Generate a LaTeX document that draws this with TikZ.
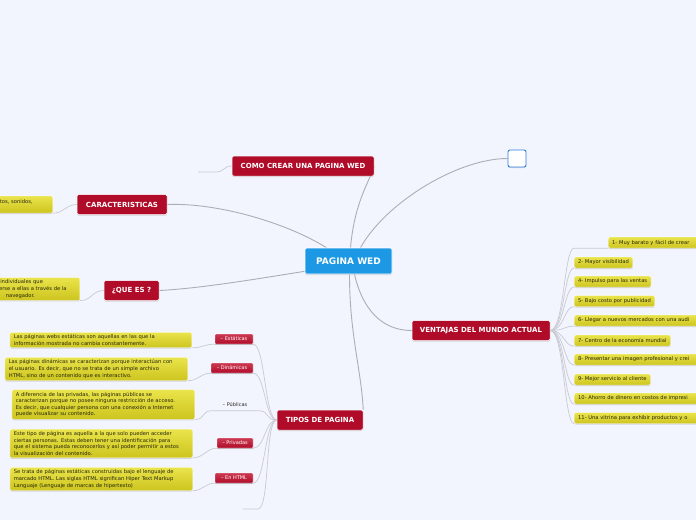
\documentclass[tikz,border=0pt]{standalone}
\usepackage{fontspec}
\setmainfont{DejaVu Sans}
\usepackage{xcolor}
\usepackage{tikz}
\usetikzlibrary{positioning,calc,backgrounds,shadows}
\definecolor{mmBack}{HTML}{F2F5FD}
\definecolor{mmBlue}{HTML}{1C98E4}
\definecolor{mmBlueD}{HTML}{2E7FE0}
\definecolor{mmRed}{HTML}{B00C2A}
\definecolor{mmRedL}{HTML}{CC3A52}
\definecolor{mmYelT}{HTML}{EAE44C}
\definecolor{mmYelB}{HTML}{CDC41E}
\definecolor{mmLine}{HTML}{ADADB6}
\definecolor{mmLineL}{HTML}{C9C9D2}
\definecolor{mmText}{HTML}{26260C}
\definecolor{mmWhite}{HTML}{FFFFFF}
\tikzset{
  mm-shadow/.style={drop shadow={shadow xshift=0pt, shadow yshift=-1pt,
    opacity=0.22, fill=black!60}},
  mm-root/.style={
    fill=mmBlue, draw=mmWhite, line width=0.6pt, rounded corners=1.5pt,
    text=mmWhite, font=\fontsize{9}{10}\bfseries, inner sep=2pt,
    minimum width=87pt, minimum height=26pt, mm-shadow
  },
  mm-main/.style={
    fill=mmRed, draw=mmWhite, line width=0.5pt, rounded corners=1.5pt,
    text=mmWhite, font=\fontsize{7}{8}\bfseries, inner sep=2pt,
    minimum height=20pt, mm-shadow
  },
  mm-blank/.style={
    fill=mmWhite, draw=mmBlueD, line width=0.9pt, rounded corners=2pt,
    minimum width=18pt, minimum height=17pt, mm-shadow
  },
  mm-sub/.style={
    top color=mmRedL, bottom color=mmRed, draw=mmWhite, line width=0.3pt,
    rounded corners=1pt, text=mmWhite, font=\fontsize{5}{6}\selectfont,
    inner xsep=2pt, inner ysep=1pt, minimum height=10pt, mm-shadow
  },
  mm-subtxt/.style={
    text=black!85, font=\fontsize{5}{6}\selectfont,
    inner xsep=2pt, inner ysep=1pt, minimum height=11pt
  },
  mm-note/.style={
    top color=mmYelT, bottom color=mmYelB, draw=mmWhite, line width=0.3pt,
    rounded corners=1.5pt, text=mmText, font=\fontsize{5.2}{6.6}\selectfont,
    align=left, inner xsep=4pt, inner ysep=2.3pt, mm-shadow
  },
  mm-item/.style={mm-note, anchor=west, inner ysep=1pt, minimum height=11pt},
  mm-link/.style={draw=mmLine, line width=0.9pt},
  mm-thin/.style={draw=mmLineL, line width=0.7pt}
}

\begin{document}
\begin{tikzpicture}[x=1pt,y=-1pt]
\useasboundingbox (0,0) rectangle (696,520);
\clip (0,0) rectangle (696,520);

% nodo central y ramas
\node[mm-root] (root) at (348.5,261) {PAGINA WED};
\node[mm-main, minimum width=142pt] (como) at (303,166) {COMO CREAR UNA PAGINA WED};
\node[mm-blank] (blank) at (517,158.5) {};
\node[mm-main, minimum width=90pt] (caract) at (122,204.5) {CARACTERISTICAS};
\node[mm-main, minimum width=55pt] (quees) at (131.5,290.5) {¿QUE ES ?};
\node[mm-main, minimum width=138pt] (vent) at (481,330.5) {VENTAJAS DEL MUNDO ACTUAL};
\node[mm-main, minimum width=86pt] (tipos) at (320,420) {TIPOS DE PAGINA};

\coordinate (cstub) at (198,172);
\coordinate (tstub) at (243,509);

% notas de la izquierda
\node[mm-note, anchor=east, text width=49pt, minimum height=17pt] (cnote) at (53,204.5)
  {tos, sonidos,\\\mbox{}};
\node[mm-note, anchor=east, text width=80pt] (qnote) at (80,289)
  {s individuales que\\ derse a ellas a través de la\\ \hspace*{10pt}navegador.};

% tipos de pagina
\node[mm-sub, minimum width=38pt] (est) at (234,339) {– Estáticas};
\node[mm-sub, minimum width=42pt] (din) at (232,368) {– Dinámicas};
\node[mm-subtxt, minimum width=46pt] (pub) at (235,405) {– Públicas};
\node[mm-sub, minimum width=36pt] (priv) at (235,443) {– Privadas};
\node[mm-sub, minimum width=38pt] (html) at (234,478) {– En HTML};

\node[mm-note, anchor=east, text width=174pt] (estnote) at (192,340)
  {Las páginas webs estáticas son aquellas en las que la\\
  información mostrada no cambia constantemente.};
\node[mm-note, anchor=east, text width=175pt] (dinnote) at (188,369)
  {Las páginas dinámicas se caracterizan porque interactúan con\\
  el usuario. Es decir, que no se trata de un simple archivo\\
  HTML, sino de un contenido que es interactivo.};
\node[mm-note, anchor=east, text width=175pt] (pubnote) at (195,404.5)
  {A diferencia de las privadas, las páginas públicas se\\
  caracterizan porque no posee ninguna restricción de acceso.\\
  Es decir, que cualquier persona con una conexión a Internet\\
  puede visualizar su contenido.};
\node[mm-note, anchor=east, text width=175pt] (privnote) at (193,443.5)
  {Este tipo de página es aquella a la que solo pueden acceder\\
  ciertas personas. Estas deben tener una identificación para\\
  que el sistema pueda reconocerlos y así poder permitir a estos\\
  la visualización del contenido.};
\node[mm-note, anchor=east, text width=175pt] (htmlnote) at (193,479)
  {Se trata de páginas estáticas construidas bajo el lenguaje de\\
  marcado HTML. Las siglas HTML significan Hiper Text Markup\\
  Languaje (Lenguaje de marcas de hipertexto)};

% ventajas
\node[mm-item, text width=100pt] (v1) at (608,242.5) {1- Muy barato y fácil de crear};
\node[mm-item] (v2) at (574,262.5) {2- Mayor visibilidad};
\node[mm-item] (v4) at (574,281.5) {4- Impulso para las ventas};
\node[mm-item] (v5) at (574,301) {5- Bajo costo por publicidad};
\node[mm-item, text width=140pt] (v6) at (574,320.5) {6- Llegar a nuevos mercados con una audi};
\node[mm-item] (v7) at (574,340.5) {7- Centro de la economía mundial};
\node[mm-item, text width=140pt] (v8) at (574,359.5) {8- Presentar una imagen profesional y crei};
\node[mm-item] (v9) at (574,379.5) {9- Mejor servicio al cliente};
\node[mm-item, text width=140pt] (v10) at (574,398.5) {10- Ahorro de dinero en costos de impresi};
\node[mm-item, text width=140pt] (v11) at (574,418) {11- Una vitrina para exhibir productos y o};

\begin{scope}[on background layer]
\fill[mmBack] (0,0) rectangle (696,520);
\draw[mm-link] ([xshift=2pt]root.north) .. controls +(4,-45) and +(-6,18) .. (como.east);
\draw[mm-link] ([xshift=12pt]root.north) .. controls +(25,-45) and +(-50,0) .. (blank.west);
\draw[mm-link] ([xshift=-22pt]root.north) .. controls +(-40,-25) and +(50,-2) .. (caract.east);
\draw[mm-link] ([yshift=3pt]root.south west) .. controls +(-50,8) and +(40,-2) .. (quees.east);
\draw[mm-link] ([xshift=6pt]root.south) .. controls +(8,35) and +(-30,0) .. (vent.west);
\draw[mm-link] ([xshift=1pt]root.south) .. controls +(0,60) and +(-2,-40) .. (tipos.north east);

\draw[mm-thin] (como.west) .. controls +(-8,0) and +(8,0) .. ($(cstub)+(18,0)$) -- (cstub);
\draw[mm-thin] (caract.west) .. controls +(-10,0) and +(10,0) .. (cnote.south east);
\draw[mm-thin] (quees.west) .. controls +(-12,0) and +(12,0) .. (qnote.south east);

\draw[mm-thin] (vent.east) .. controls +(14,0) and +(-10,0) .. (v1.south -| v2.west) -- (v1.south west);
\draw[mm-thin] (vent.east) .. controls +(14,0) and +(-10,0) .. (v2.south west);
\draw[mm-thin] (vent.east) .. controls +(14,0) and +(-10,0) .. (v4.south west);
\draw[mm-thin] (vent.east) .. controls +(14,0) and +(-10,0) .. (v5.south west);
\draw[mm-thin] (vent.east) .. controls +(14,0) and +(-10,0) .. (v6.south west);
\draw[mm-thin] (vent.east) .. controls +(14,0) and +(-10,0) .. (v7.south west);
\draw[mm-thin] (vent.east) .. controls +(14,0) and +(-10,0) .. (v8.south west);
\draw[mm-thin] (vent.east) .. controls +(14,0) and +(-10,0) .. (v9.south west);
\draw[mm-thin] (vent.east) .. controls +(14,0) and +(-10,0) .. (v10.south west);
\draw[mm-thin] (vent.east) .. controls +(14,0) and +(-10,0) .. (v11.south west);

\draw[mm-thin] (tipos.west) .. controls +(-12,0) and +(12,0) .. (est.south east) -- (est.south west)
  .. controls +(-10,0) and +(10,0) .. (estnote.south east);
\draw[mm-thin] (tipos.west) .. controls +(-12,0) and +(12,0) .. (din.south east) -- (din.south west)
  .. controls +(-10,0) and +(10,0) .. (dinnote.south east);
\draw[mm-thin] (tipos.west) .. controls +(-12,0) and +(12,0) .. (pub.south east) -- (pub.south west)
  .. controls +(-10,0) and +(10,0) .. (pubnote.south east);
\draw[mm-thin] (tipos.west) .. controls +(-12,0) and +(12,0) .. (priv.south east) -- (priv.south west)
  .. controls +(-10,0) and +(10,0) .. (privnote.south east);
\draw[mm-thin] (tipos.west) .. controls +(-12,0) and +(12,0) .. (html.south east) -- (html.south west)
  .. controls +(-10,0) and +(10,0) .. (htmlnote.south east);
\draw[mm-thin] (tipos.west) .. controls +(-12,0) and +(12,0) .. ($(tstub)+(15,0)$) -- (tstub);
\end{scope}
\end{tikzpicture}
\end{document}
